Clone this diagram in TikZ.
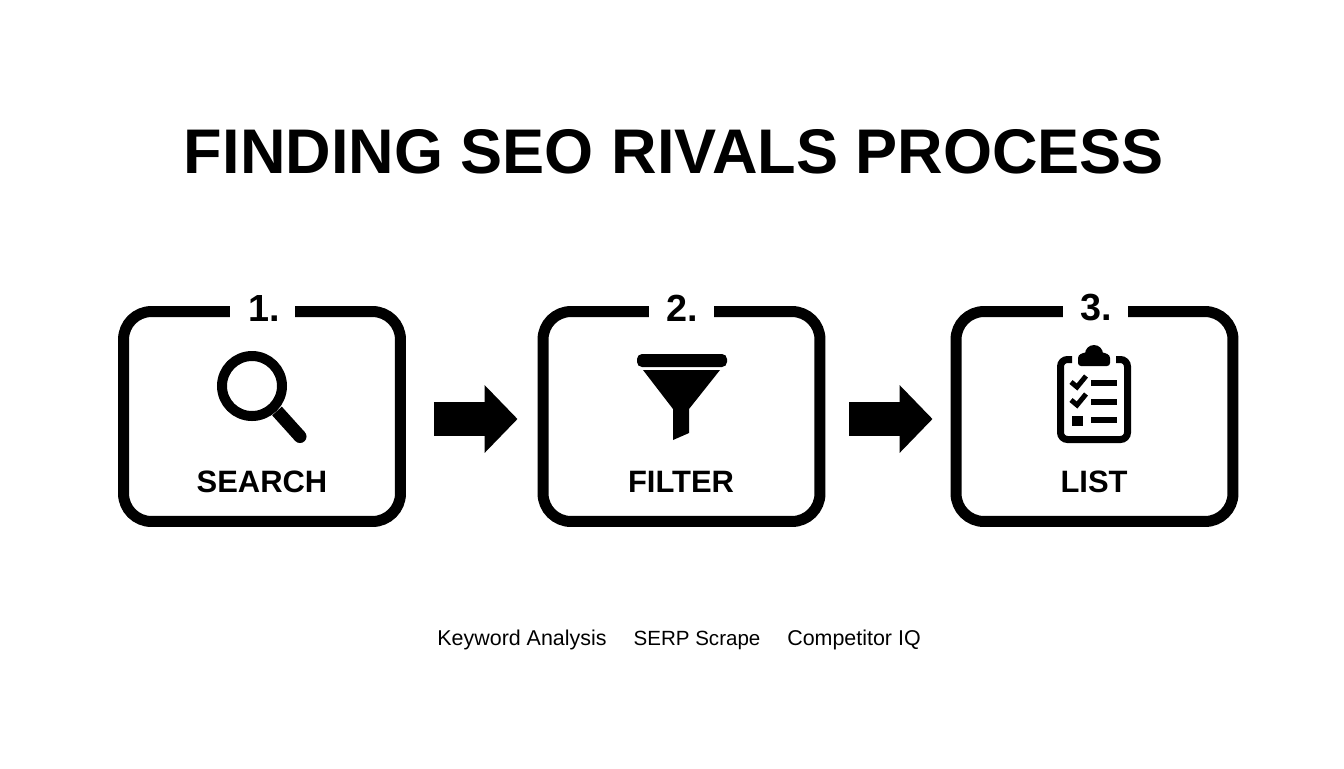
\documentclass[tikz,border=0pt]{standalone}
\usepackage{fontspec}
\setmainfont{Liberation Sans}
\usetikzlibrary{arrows.meta}
\tikzset{
	stepbox/.style={draw, line width=.22cm, rounded corners=.56cm, minimum width=5.54cm, minimum height=4.2cm},
	numlabel/.style={fill=white, inner sep=0pt, minimum width=1.3cm, minimum height=.9cm, font=\fontsize{21.5}{24}\selectfont\bfseries},
	steplabel/.style={font=\fontsize{17.6}{20}\selectfont\bfseries},
	notelabel/.style={font=\fontsize{12.2}{14}\selectfont},
	blockarrow/.style={line width=.68cm, -{Triangle[length=.66cm, width=1.32cm]}}
}
\begin{document}
\begin{tikzpicture}[x=.02cm, y=-.02cm]
	\useasboundingbox (0,0) rectangle (1344,768);
	\node[font=\fontsize{35.9}{40}\selectfont\bfseries] (title) at (674,152) {FINDING SEO RIVALS PROCESS};
	% boxes
	\node[stepbox] (S) at (262,416.5) {};
	\node[stepbox] (F) at (681.5,416.5) {};
	\node[stepbox] (L) at (1094.5,416.5) {};
	\node[numlabel] (n1) at (262.5,308) {\hspace{.08cm}1.};
	\node[numlabel] (n2) at (681.5,308) {\hspace{.04cm}2.};
	\node[numlabel] (n3) at (1095,308) {\hspace{.06cm}3.};
	\node[steplabel] (s1) at (262,482) {SEARCH};
	\node[steplabel] (s2) at (681,482) {FILTER};
	\node[steplabel] (s3) at (1094,482) {LIST};
	% arrows
	\draw[blockarrow, shorten <=.56cm, shorten >=.4cm] ([yshift=-.05cm]S.east) -- ([yshift=-.05cm]F.west);
	\draw[blockarrow, shorten <=.48cm, shorten >=.36cm] ([yshift=-.05cm]F.east) -- ([yshift=-.05cm]L.west);
	% magnifier
	\draw[line width=.2cm] (252,386) circle (30);
	\draw[line width=.26cm] (277,411) -- (300,436.5);
	\fill (300,436.5) circle (6.5);
	% funnel
	\fill[rounded corners=.1cm] (637,354) rectangle (727,367);
	\fill (643,370) -- (720,370) -- (689,409) -- (689,433) -- (673,440) -- (673,409) -- cycle;
	% clipboard
	\draw[line width=.14cm, rounded corners=.14cm] (1072,359.5) -- (1060.5,359.5) -- (1060.5,439.5) -- (1127.5,439.5) -- (1127.5,359.5) -- (1116,359.5);
	\fill[rounded corners=.06cm] (1078,366) -- (1110,366) -- (1110,355) -- (1102,352) -- (1086,352) -- (1078,355) -- cycle;
	\fill (1094,354) circle (9);
	\draw[line width=.1cm] (1071,382) -- (1077,387) -- (1086,376);
	\draw[line width=.1cm] (1071,400) -- (1077,405) -- (1086,394);
	\fill (1072,416) rectangle (1083,426);
	\draw[line width=.12cm] (1091,383) -- (1117,383);
	\draw[line width=.12cm] (1091,402) -- (1117,402);
	\draw[line width=.12cm] (1091,420) -- (1117,420);
	% captions
	\node[notelabel] (k1) at (522,640) {Keyword Analysis};
	\node[notelabel, font=\fontsize{11.7}{14}\selectfont] (k2) at (697,640) {SERP Scrape};
	\node[notelabel] (k3) at (854,640) {Competitor IQ};
\end{tikzpicture}
\end{document}
